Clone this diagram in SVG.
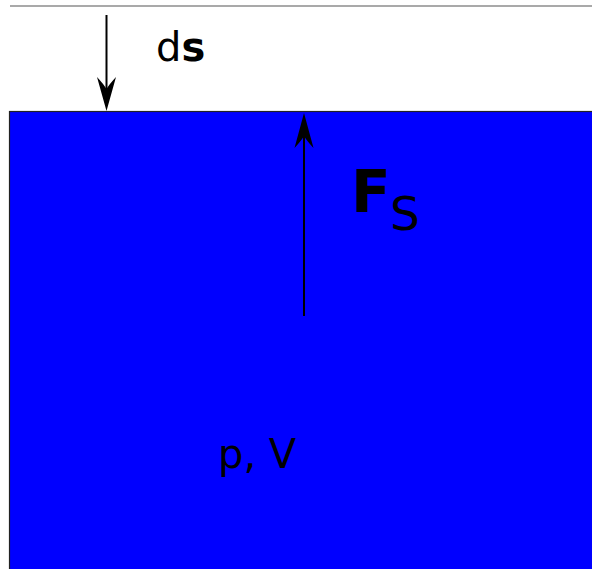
<svg xmlns="http://www.w3.org/2000/svg" width="592" height="569" viewBox="0 0 592 569">
<style>
text{font-family:"DejaVu Sans","Liberation Sans",sans-serif;fill:#000}
.arr{stroke:#000;stroke-width:2;fill:none}
.hd{fill:#000;stroke:none}
</style>
<rect width="592" height="569" fill="#fff"/>
<g id="top-line"><line x1="10" y1="6" x2="592" y2="6" stroke="#555" stroke-width="1.2"/></g>
<g id="gas"><rect x="9.5" y="111.5" width="590" height="470" fill="#0000ff" stroke="#222" stroke-width="1.2"/></g>
<g id="connectors">
<line class="arr" x1="106.5" y1="15" x2="106.5" y2="95"/>
<path class="hd" d="M106.5,111 L116,77 Q109.5,84 106.5,89 Q103.5,84 97,77 Z"/>
<line class="arr" x1="304" y1="316" x2="304" y2="130"/>
<path class="hd" d="M304,113 L313.5,148 Q307,141 304,136 Q301,141 294.5,148 Z"/>
</g>
<g id="label-ds"><text x="156" y="61" font-size="40">d<tspan font-weight="bold">s</tspan></text></g>
<g id="label-Fs"><text x="351" y="212" font-size="58" font-weight="bold">F</text><text x="390" y="230" font-size="47">S</text></g>
<g id="label-pV"><text x="218" y="468" font-size="40">p, V</text></g>
</svg>
